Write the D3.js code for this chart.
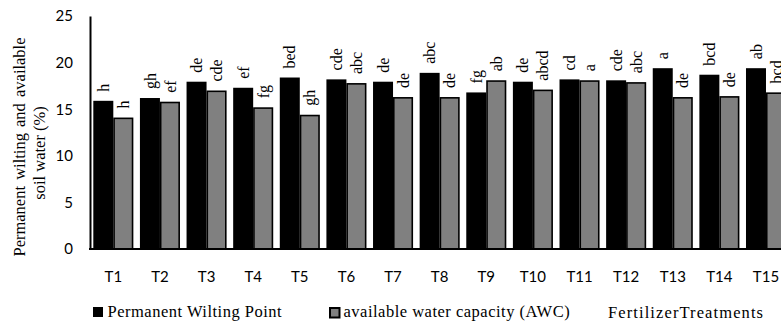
<!DOCTYPE html>
<html>
<head>
<meta charset="utf-8">
<script src="https://cdn.jsdelivr.net/npm/d3@7"></script>
<style>
  html, body { margin: 0; padding: 0; background: #fff; }
  svg { display: block; }
</style>
</head>
<body>
<svg id="chart" width="781" height="327"></svg>
<script>
const treatments = ['T1','T2','T3','T4','T5','T6','T7','T8','T9','T10','T11','T12','T13','T14','T15']
const pwpValues = [15.9, 16.2, 17.95, 17.3, 18.4, 18.2, 17.95, 18.9, 16.8, 17.95, 18.2, 18.1, 19.4, 18.7, 19.4]
const awcValues = [14.1, 15.8, 17.0, 15.2, 14.4, 17.8, 16.3, 16.3, 18.1, 17.1, 18.1, 17.9, 16.3, 16.4, 16.8]
const pwpLetters = ['h','gh','de','ef','bed','cde','de','abc','fg','de','cd','cde','a','bcd','ab']
const awcLetters = ['h','ef','cde','fg','gh','abc','de','de','ab','abcd','a','abc','de','de','bcd']
const yTicks = [0, 5, 10, 15, 20, 25]
const seriesNames = ['Permanent Wilting Point', 'available water capacity (AWC)']

const serif = 'Liberation Serif, Times New Roman, serif'
const sans = 'Lato, Open Sans, sans-serif'

const svg = d3.select('#chart')

const x = d3.scaleBand()
  .domain(treatments)
  .range([90, 90 + 15 * 46.62])
  .paddingInner(0.142)
  .paddingOuter(0.071)

const xs = d3.scaleBand()
  .domain(['pwp', 'awc'])
  .range([0, x.bandwidth()])

const y = d3.scaleLinear().domain([0, 25]).range([249, 16])

const rows = treatments.map((t, i) => ({
  t,
  items: [
    { key: 'pwp', v: pwpValues[i], lab: pwpLetters[i] },
    { key: 'awc', v: awcValues[i], lab: awcLetters[i] }
  ]
}))

const g = svg.selectAll('g.grp')
  .data(rows)
  .enter().append('g')
  .attr('class', 'grp')
  .attr('transform', d => 'translate(' + x(d.t) + ',0)')

g.selectAll('rect')
  .data(d => d.items)
  .enter().append('rect')
  .attr('x', d => xs(d.key) + (d.key === 'awc' ? 0.75 : 0))
  .attr('y', d => y(d.v) + (d.key === 'awc' ? 0.75 : 0))
  .attr('width', d => xs.bandwidth() - (d.key === 'awc' ? 1.5 : 0))
  .attr('height', d => y(0) - y(d.v) - (d.key === 'awc' ? 0.75 : 0))
  .attr('fill', d => d.key === 'pwp' ? '#000' : '#808080')
  .attr('stroke', d => d.key === 'pwp' ? 'none' : '#000')
  .attr('stroke-width', 1.6)

g.selectAll('text.lab')
  .data(d => d.items)
  .enter().append('text')
  .attr('class', 'lab')
  .attr('transform', d => 'translate(' + (xs(d.key) + xs.bandwidth() / 2) + ',' + (y(d.v) - 9) + ') rotate(-90)')
  .attr('dy', '0.35em')
  .attr('font-family', serif)
  .attr('font-size', 16)
  .attr('fill', '#000')
  .text(d => d.lab)

// axes
const yAxis = d3.axisLeft(y).tickValues(yTicks).tickSize(0).tickPadding(17)
svg.append('g')
  .attr('transform', 'translate(90,0)')
  .call(yAxis)
  .call(a => a.select('.domain').attr('stroke', '#000').attr('stroke-width', 2))
  .call(a => a.selectAll('text').attr('font-family', sans).attr('font-size', 15).attr('fill', '#000'))

const xAxis = d3.axisBottom(x).tickSize(0).tickPadding(22)
svg.append('g')
  .attr('transform', 'translate(0,249)')
  .call(xAxis)
  .call(a => a.select('.domain').attr('d', 'M89,0H781').attr('stroke', '#000').attr('stroke-width', 2))
  .call(a => a.selectAll('text').attr('font-family', sans).attr('font-size', 15).attr('fill', '#000'))

// y title, two lines
svg.append('text')
  .attr('transform', 'translate(25,147) rotate(-90)')
  .attr('text-anchor', 'middle')
  .attr('font-family', serif)
  .attr('font-size', 16.5)
  .attr('word-spacing', 2)
  .attr('fill', '#000')
  .text('Permanent wilting and available')
svg.append('text')
  .attr('transform', 'translate(45,153) rotate(-90)')
  .attr('text-anchor', 'middle')
  .attr('font-family', serif)
  .attr('font-size', 16.5)
  .attr('fill', '#000')
  .text('soil water (%)')

// legend
const legend = svg.append('g')
const legX = [93, 329]
seriesNames.forEach((name, i) => {
  legend.append('rect')
    .attr('x', legX[i] + (i ? 1 : 0))
    .attr('y', 307 + (i ? 1 : 0))
    .attr('width', i ? 9.5 : 10)
    .attr('height', i ? 9.5 : 10)
    .attr('fill', i ? '#808080' : '#000')
    .attr('stroke', i ? '#000' : 'none')
    .attr('stroke-width', 2)
  legend.append('text')
    .attr('x', legX[i] + 14.5)
    .attr('y', 317)
    .attr('font-family', serif)
    .attr('font-size', 16.5)
    .attr('letter-spacing', 0.5)
    .attr('fill', '#000')
    .text(name)
})
svg.append('text')
  .attr('x', 608)
  .attr('y', 318)
  .attr('font-family', serif)
  .attr('font-size', 16.5)
  .attr('letter-spacing', 1.1)
  .attr('fill', '#000')
  .text('FertilizerTreatments')
</script>
</body>
</html>
